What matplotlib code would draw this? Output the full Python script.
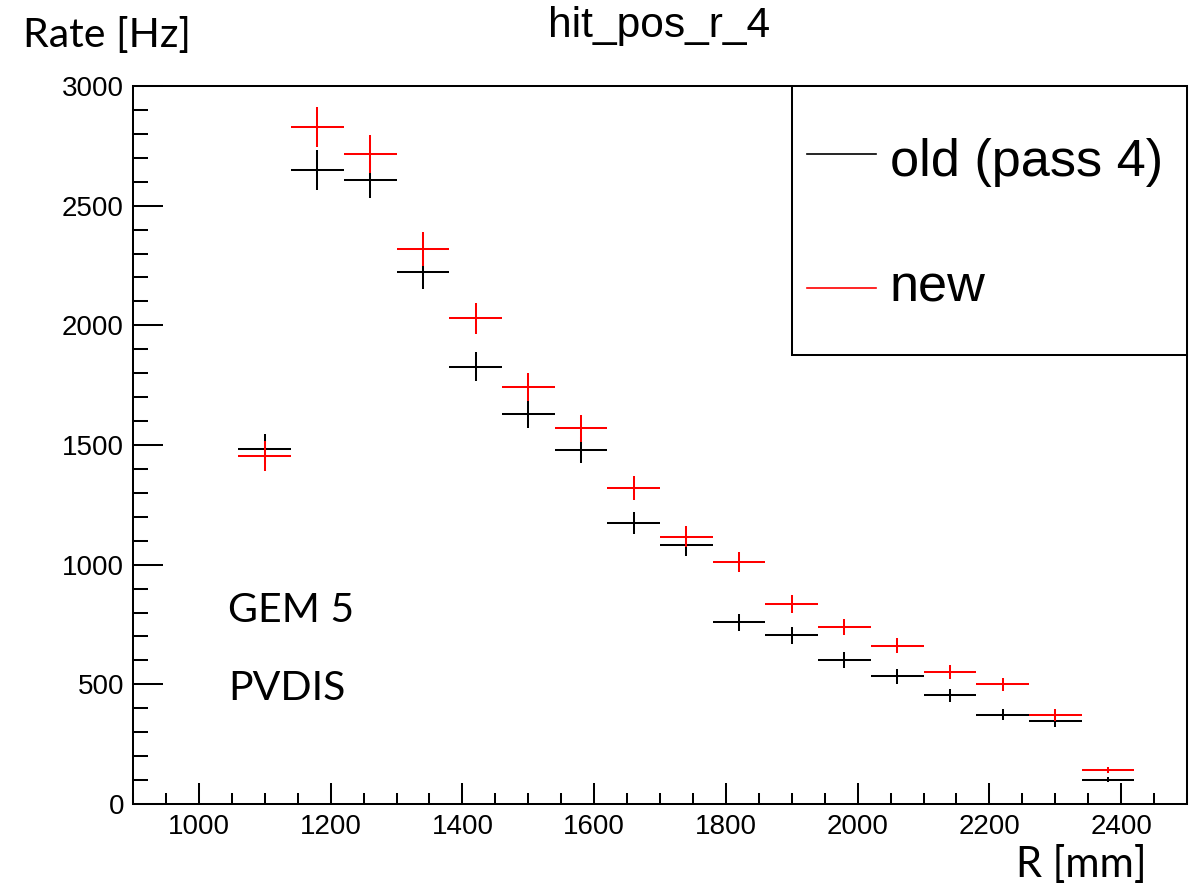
import numpy as np
import matplotlib
matplotlib.use("Agg")
import matplotlib.pyplot as plt
from matplotlib.patches import Rectangle
from matplotlib.lines import Line2D
from matplotlib.ticker import MultipleLocator

# ---------------- data ----------------
bin_centers = [1100, 1180, 1260, 1340, 1420, 1500, 1580, 1660, 1740,
               1820, 1900, 1980, 2060, 2140, 2220, 2300, 2380]
bin_half_width = 40
old_rate = [1484, 2649, 2608, 2222, 1827, 1628, 1479, 1174, 1084,
            759, 705, 602, 533, 454, 373, 345, 102]
old_err = [62, 82, 78, 70, 61, 57, 55, 47, 46, 35, 35, 32, 30, 26, 22, 22, 11]
new_rate = [1454, 2829, 2716, 2318, 2029, 1741, 1569, 1319, 1117,
            1011, 836, 740, 662, 553, 500, 373, 141]
new_err = [61, 85, 81, 72, 66, 58, 55, 50, 45, 42, 38, 34, 32, 29, 28, 25, 13]
legend_labels = ["old (pass 4)", "new"]
title = "hit_pos_r_4"

# ---------------- figure ----------------
W, H = 1199, 886
fig = plt.figure(figsize=(W / 100, H / 100), dpi=100)

def fx(x):
    return x / W

def fy(y):
    return 1 - y / H

L, R, T, B = 133, 1187, 86, 804
ax = fig.add_axes([fx(L), fy(B), fx(R - L), fy(T) - fy(B)])

helv = "Liberation Sans"
cal = "Lato"
lw = 1.45

ax.errorbar(bin_centers, old_rate, xerr=bin_half_width, yerr=old_err,
            fmt="none", ecolor="black", elinewidth=lw, capsize=0, zorder=3)
ax.errorbar(bin_centers, new_rate, xerr=bin_half_width, yerr=new_err,
            fmt="none", ecolor="#ff0000", elinewidth=lw, capsize=0, zorder=4)

ax.set_xlim(900, 2500)
ax.set_ylim(0, 3000)
ax.xaxis.set_major_locator(MultipleLocator(200))
ax.xaxis.set_minor_locator(MultipleLocator(50))
ax.yaxis.set_major_locator(MultipleLocator(500))
ax.yaxis.set_minor_locator(MultipleLocator(100))

ax.tick_params(axis="both", which="both", direction="in", top=False, right=False,
               width=lw, color="black")
ax.tick_params(axis="x", which="major", length=15.1, pad=7)
ax.tick_params(axis="x", which="minor", length=7.6)
ax.tick_params(axis="y", which="major", length=21.6, pad=6.5)
ax.tick_params(axis="y", which="minor", length=10.8)
for lab in ax.get_xticklabels() + ax.get_yticklabels():
    lab.set_fontfamily(helv)
    lab.set_fontsize(20)
for sp in ax.spines.values():
    sp.set_linewidth(lw)

# title
fig.text(fx(659), fy(37), title, ha="center", va="baseline",
         fontsize=30.6, family=helv)

# legend (ROOT-style box)
fig.patches.append(Rectangle((fx(792), fy(355)), fx(1187 - 792), fy(86) - fy(355),
                             transform=fig.transFigure, facecolor="white",
                             edgecolor="black", linewidth=lw, zorder=5))
leg_y_line = [154, 288]
leg_y_base = [176, 302]
leg_colors = ["black", "#ff0000"]
for lab, yl, yb, c in zip(legend_labels, leg_y_line, leg_y_base, leg_colors):
    fig.lines.append(Line2D([fx(807), fx(876)], [fy(yl), fy(yl)],
                            transform=fig.transFigure, color=c, linewidth=1.2,
                            zorder=6))
    fig.text(fx(890), fy(yb), lab, ha="left", va="baseline",
             fontsize=37.6, family=helv, zorder=6)

# annotations
fig.text(fx(23), fy(47), "Rate [Hz]", ha="left", va="baseline",
         fontsize=29.5, family=cal)
fig.text(fx(1147), fy(877), "R [mm]", ha="right", va="baseline",
         fontsize=30, family=cal)
fig.text(fx(228), fy(622), "GEM 5", ha="left", va="baseline",
         fontsize=29.5, family=cal)
fig.text(fx(228), fy(700), "PVDIS", ha="left", va="baseline",
         fontsize=29.5, family=cal)

fig.savefig("out.png", dpi=100)
